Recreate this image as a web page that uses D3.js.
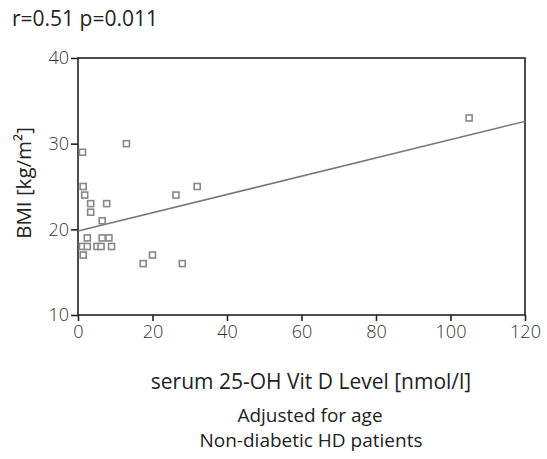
<!DOCTYPE html>
<html>
<head>
<meta charset="utf-8">
<script src="https://cdn.jsdelivr.net/npm/d3@7"></script>
<style>
  body { margin: 0; background: #fff; }
  text { font-family: "Open Sans", "Noto Sans", sans-serif; }
</style>
</head>
<body>
<div id="container"></div>
<script>
// serum 25-OH Vit D (nmol/l) vs BMI (kg/m2)
const vitD = [1.2, 13, 1.4, 1.8, 3.4, 7.7, 3.4, 6.5, 2.5, 6.5, 8.3, 1.2, 2.5, 5.1, 6.2, 9.0, 1.4, 17.5, 20, 28, 26.3, 32, 105];
const bmi  = [29, 30, 25, 24, 23, 23, 22, 21, 19, 19, 19, 18, 18, 18, 18, 18, 17, 16, 17, 16, 24, 25, 33];
const fitLine = [[0, 19.8], [120, 32.6]];
const xTicks = [0, 20, 40, 60, 80, 100, 120];
const yTicks = [10, 20, 30, 40];

const width = 547;
const height = 459;
const margin = { left: 78, right: 22, top: 58, bottom: 144 };

const svg = d3.select("#container")
	.append("svg")
		.attr("width", width)
		.attr("height", height);

const x = d3.scaleLinear()
	.domain([0, 120])
	.range([margin.left, width - margin.right]);

const y = d3.scaleLinear()
	.domain([10, 40])
	.range([height - margin.bottom, margin.top]);

// frame
svg.append("rect")
	.attr("x", x(0))
	.attr("y", y(40))
	.attr("width", x(120) - x(0))
	.attr("height", y(10) - y(40))
	.style("fill", "none")
	.style("stroke", "#222")
	.style("stroke-width", 1.6);

const xAxis = svg.append("g")
	.attr("transform", `translate(0, ${y(10)})`)
	.call(d3.axisBottom(x).tickValues(xTicks).tickSize(6).tickPadding(4));

const yAxis = svg.append("g")
	.attr("transform", `translate(${x(0)}, 0)`)
	.call(d3.axisLeft(y).tickValues(yTicks).tickSize(7).tickPadding(2));

[xAxis, yAxis].forEach((g) => {
	g.select(".domain").remove();
	g.selectAll("line").style("stroke", "#222").style("stroke-width", 1.6);
	g.selectAll("text")
		.style("font-size", "18px")
		.style("font-family", "'Open Sans', sans-serif")
		.style("font-weight", 300)
		.style("fill", "#333");
});

// regression line
svg.append("path")
	.attr("d", d3.line().x((d) => x(d[0])).y((d) => y(d[1]))(fitLine))
	.style("fill", "none")
	.style("stroke", "#777")
	.style("stroke-width", 1.5);

// points
const pts = vitD.map((v, i) => ({ v: v, b: bmi[i] }));
svg.selectAll(".pt")
	.data(pts)
	.enter()
	.append("rect")
		.attr("class", "pt")
		.attr("x", (d) => x(d.v) - 3)
		.attr("y", (d) => y(d.b) - 3)
		.attr("width", 6)
		.attr("height", 6)
		.style("fill", "#fff")
		.style("stroke", "#888")
		.style("stroke-width", 1.6);

// texts
svg.append("text")
	.text("r=0.51 p=0.011")
	.attr("x", 12)
	.attr("y", 26)
	.style("font-size", "21px")
	.style("fill", "#222");

svg.append("text")
	.text("serum 25-OH Vit D Level [nmol/l]")
	.attr("x", 311)
	.attr("y", 389)
	.attr("text-anchor", "middle")
	.style("font-size", "21px")
	.style("fill", "#222");

svg.append("text")
	.text("BMI [kg/m²]")
	.attr("transform", `translate(31, 183) rotate(-90)`)
	.attr("text-anchor", "middle")
	.style("font-size", "20.5px")
	.style("fill", "#222");

svg.append("text")
	.text("Adjusted for age")
	.attr("x", 310)
	.attr("y", 422)
	.attr("text-anchor", "middle")
	.style("font-size", "19px")
	.style("fill", "#222");

svg.append("text")
	.text("Non-diabetic HD patients")
	.attr("x", 311)
	.attr("y", 447)
	.attr("text-anchor", "middle")
	.style("font-size", "19px")
	.style("fill", "#222");
</script>
</body>
</html>
